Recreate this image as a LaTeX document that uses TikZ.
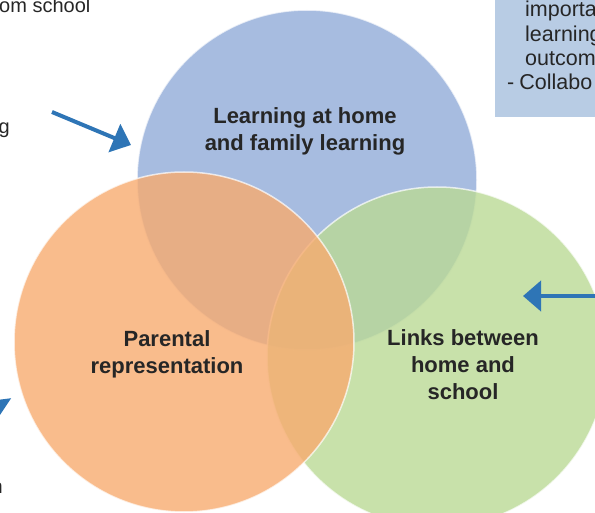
\documentclass[tikz,border=0pt]{standalone}
\usepackage{fontspec}
\setmainfont{Liberation Sans}
\usepackage{tikz}
\usetikzlibrary{positioning, arrows.meta}
\definecolor{homeblue}{RGB}{145,171,216}
\definecolor{parentorange}{RGB}{248,171,111}
\definecolor{linkgreen}{RGB}{186,217,149}
\definecolor{noteblue}{RGB}{184,204,228}
\definecolor{pointblue}{RGB}{46,117,182}
\definecolor{textgray}{RGB}{38,38,38}
\tikzstyle{venn} = [circle, draw=white, line width=1.5pt, minimum size=340pt, inner sep=0pt, fill opacity=0.8, draw opacity=0.7]
\tikzstyle{venntext} = [align=center, inner sep=0pt, text=textgray, font=\fontsize{22}{27}\selectfont\bfseries]
\tikzstyle{sidetext} = [inner sep=0pt, text=textgray, font=\fontsize{20}{24}\selectfont]
\tikzstyle{notetext} = [inner sep=0pt, text=textgray, font=\fontsize{21.5}{24}\selectfont]
\tikzstyle{pointer} = [-{Triangle[length=18pt, width=30pt]}, line width=4pt, color=pointblue]

\begin{document}
\begin{tikzpicture}[x=1pt, y=-1pt]
\useasboundingbox (0,0) rectangle (595,513);
\clip (0,0) rectangle (595,513);
% the three circles
\node[venn, fill=homeblue] (home) at (307,180) {};
\node[venn, fill=linkgreen] (links) at (437,357) {};
\node[venn, fill=parentorange] (parent) at (184,342) {};
\node[venntext] (hometext) at (305,131) {Learning at home\\and family learning};
\node[venntext] (parenttext) at (167,354) {Parental\\representation};
\node[venntext] (linktext) at (463,365) {Links between\\home and\\school};
% note box, top right
\node[fill=noteblue, anchor=north west, minimum width=110pt, minimum height=122pt, inner sep=0pt] (note) at (495,-5) {};
\node[notetext, anchor=base west] (n1) at (525,17) {importa};
\node[notetext, anchor=base west] (n2) at (525,42) {learning};
\node[notetext, anchor=base west] (n3) at (525,66) {outcom};
\node[notetext, anchor=base west] (n4) at (507,90) {-\hspace{5pt}Collabo};
% cut-off text on the left
\node[sidetext, anchor=base west] (s1) at (-1,13) {om school};
\node[sidetext, anchor=base east] (s2) at (10,134) {g};
\node[sidetext, anchor=base east] (s3) at (3,493) {n};
% arrows
\coordinate (a1) at (52,112);
\coordinate (a1tip) at (131,145);
\coordinate (a2) at (600,296);
\coordinate (a2tip) at (523,296);
\coordinate (a3) at (-13,330);
\coordinate (a3tip) at (-2,418);
\draw[pointer] (a1) -- (a1tip);
\draw[pointer] (a2) -- (a2tip);
\draw[pointer] (a3) -- (a3tip);
\end{tikzpicture}
\end{document}
